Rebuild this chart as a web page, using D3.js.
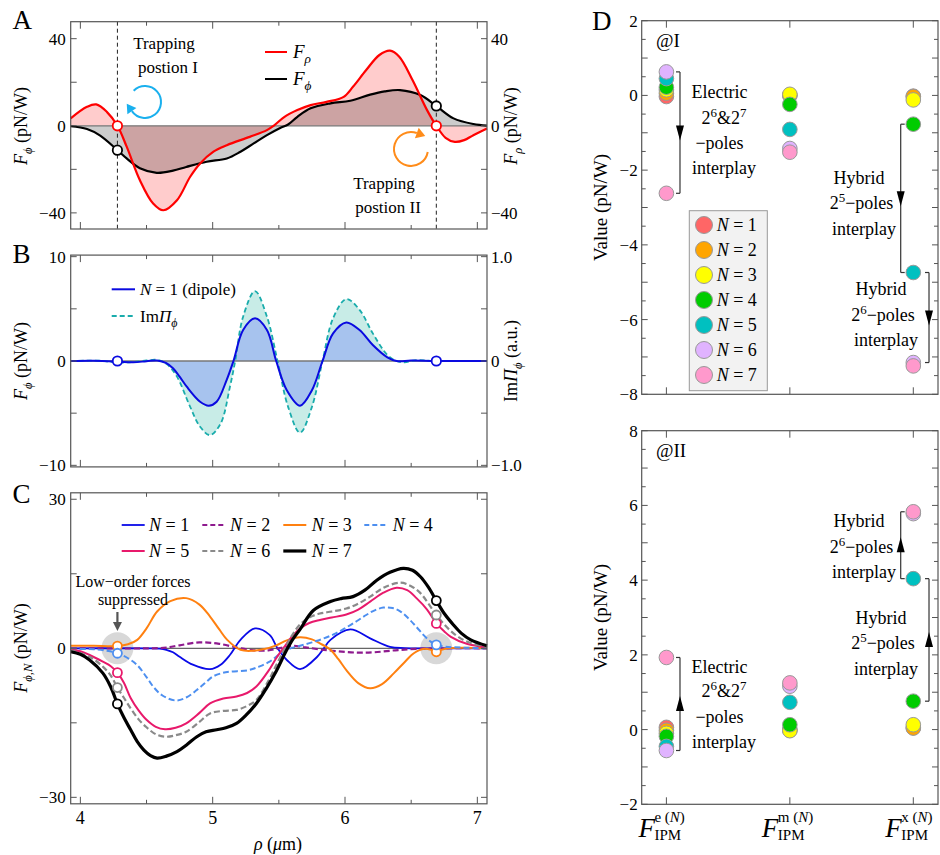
<!DOCTYPE html>
<html><head><meta charset="utf-8">
<script src="https://cdn.jsdelivr.net/npm/d3@7"></script>
<style>body{margin:0;background:#fff}text{font-family:"Liberation Serif","Times New Roman",serif}</style>
</head><body><svg id="c" width="940" height="855"></svg>
<script>
// ---------------- DATA ----------------
const rhoTicks = [4, 5, 6, 7];
const rhoMinor = [4.5, 5.5, 6.5];
const trapRho = [4.28, 6.69];
// Panel A
const A_Frho = [[3.927,3.4],[4.05,8.7],[4.12,9.8],[4.2,6.4],[4.28,0],[4.35,-9.6],[4.45,-25],[4.55,-35.7],[4.627,-38.8],[4.73,-34.2],[4.83,-23.4],[4.905,-17.3],[5.006,-11.9],[5.107,-8.9],[5.28,-5.1],[5.41,-2.0],[5.46,0],[5.54,4.0],[5.64,7.2],[5.74,9.5],[5.86,11],[5.99,13.3],[6.06,17.9],[6.16,25.6],[6.26,32.5],[6.34,34.5],[6.41,31.7],[6.51,21],[6.62,7.2],[6.69,0],[6.76,-5.5],[6.83,-7.4],[6.9,-6.6],[6.97,-4.3],[7.073,-1.2]];
const A_Fphi = [[3.927,-0.2],[4.05,-1.5],[4.15,-4.5],[4.28,-11.2],[4.35,-15],[4.45,-19.5],[4.577,-21.6],[4.7,-20.6],[4.8,-18.9],[4.955,-16.5],[5.107,-15],[5.21,-11.9],[5.31,-8.1],[5.41,-4.3],[5.51,-1],[5.57,0.6],[5.64,4.1],[5.74,8.0],[5.89,10.3],[6.04,11.5],[6.19,14.3],[6.3,15.8],[6.416,16.4],[6.57,14.1],[6.69,9.1],[6.82,3.4],[6.97,0.8],[7.073,0.1]];
const A_markRho = [0, 0];
const A_markPhi = [-11.2, 9.1];
const A_yTicks = [-40, 0, 40];
// Panel B
const B_N1 = [[3.927,0],[4.1,0.02],[4.28,-0.05],[4.4,-0.12],[4.5,-0.02],[4.58,0.05],[4.65,-0.2],[4.70,-0.7],[4.75,-1.5],[4.804,-2.46],[4.905,-3.9],[4.97,-4.28],[5.03,-3.9],[5.106,-1.8],[5.157,0],[5.23,2.97],[5.32,4.09],[5.41,2.97],[5.48,0],[5.56,-2.8],[5.66,-4.28],[5.75,-2.8],[5.83,0],[5.91,2.65],[6.01,3.7],[6.11,2.97],[6.21,1.53],[6.32,0.35],[6.39,0],[6.5,0.04],[6.69,0],[7.073,0]];
const B_ImPi = [[3.927,0],[4.15,0.002],[4.28,-0.015],[4.4,-0.01],[4.5,0.005],[4.58,0.01],[4.653,-0.03],[4.73,-0.15],[4.83,-0.44],[4.905,-0.63],[4.98,-0.71],[5.06,-0.6],[5.13,-0.25],[5.17,0],[5.23,0.425],[5.32,0.67],[5.41,0.425],[5.49,0],[5.57,-0.44],[5.66,-0.687],[5.75,-0.44],[5.83,0],[5.91,0.41],[6.01,0.594],[6.11,0.49],[6.21,0.265],[6.32,0.058],[6.39,0],[6.45,-0.012],[6.54,0.008],[6.69,0],[7.073,0]];
const B_leftTicks = [-10, 0, 10];
const B_rightTicks = [-1.0, 0, 1.0];
const B_rightLabels = ["\u22121.0", "0", "1.0"];
// Panel C
const C_labels = ["1","2","3","4","5","6","7"];
const C_N1 = [[3.927,0],[4.5,0],[4.6,-0.05],[4.65,-0.3],[4.70,-0.8],[4.75,-1.7],[4.85,-3.3],[4.98,-4.2],[5.06,-3.3],[5.13,-1.35],[5.21,1.7],[5.32,4.0],[5.43,2.7],[5.49,0],[5.56,-2.35],[5.66,-4.2],[5.79,-1.7],[5.84,0],[5.89,1.7],[6.04,3.8],[6.19,2.0],[6.34,0.3],[6.45,0.05],[6.6,0],[7.073,0]];
const C_N2 = [[3.927,0],[4.55,0],[4.65,0.15],[4.75,0.6],[4.9,1.2],[5.05,0.9],[5.2,0.05],[5.31,-0.4],[5.42,-0.4],[5.52,0.1],[5.6,0.5],[5.7,0.2],[5.82,-0.25],[5.95,-0.6],[6.1,-0.88],[6.22,-0.8],[6.38,-0.4],[6.55,-0.1],[6.75,0],[7.073,0]];
const C_N3 = [[3.927,0.5],[4.1,0.5],[4.28,0.45],[4.36,0.8],[4.43,1.7],[4.5,4],[4.58,7.4],[4.68,9.5],[4.80,10.1],[4.9,8.8],[4.98,6.4],[5.05,3.8],[5.11,1.7],[5.21,-0.3],[5.3,-0.5],[5.4,-0.1],[5.48,0.6],[5.56,1.6],[5.66,2.2],[5.75,1.8],[5.81,1.0],[5.89,-0.3],[5.95,-2.2],[6.01,-4.4],[6.1,-7.0],[6.19,-8.05],[6.28,-7.2],[6.37,-5.0],[6.45,-2.8],[6.52,-1.0],[6.6,-0.1],[6.66,-0.4],[6.69,-0.7],[6.72,-0.4],[6.78,0],[7.073,0]];
const C_N4 = [[3.927,-0.1],[4.1,-0.2],[4.2,-0.5],[4.28,-1.0],[4.36,-2.0],[4.43,-3.4],[4.5,-5.8],[4.55,-7.7],[4.62,-9.5],[4.72,-10.5],[4.8,-9.9],[4.88,-8.4],[4.95,-6.8],[5.0,-5.7],[5.07,-5.0],[5.13,-4.7],[5.27,-4.4],[5.35,-3.7],[5.43,-2.7],[5.51,-1.1],[5.58,-0.1],[5.66,0.5],[5.75,1.2],[5.84,2.0],[5.93,3.0],[6.01,4.2],[6.09,5.5],[6.16,6.7],[6.22,7.6],[6.29,8.2],[6.36,8.1],[6.42,7.4],[6.48,6.0],[6.54,4.3],[6.6,2.5],[6.65,1.3],[6.69,0.7],[6.75,0.35],[6.82,0.2],[7.073,0]];
const C_N5 = [[3.927,-0.3],[4.0,-0.6],[4.07,-1.35],[4.17,-2.7],[4.23,-3.6],[4.28,-4.9],[4.33,-7],[4.38,-10],[4.44,-12.5],[4.5,-14.4],[4.57,-15.8],[4.64,-16.3],[4.72,-16],[4.80,-15.1],[4.9,-13],[4.98,-11.1],[5.08,-10.1],[5.18,-9.7],[5.26,-9.0],[5.33,-7.7],[5.42,-4.6],[5.48,-2.0],[5.55,0.6],[5.6,2.4],[5.66,4.0],[5.73,5.1],[5.81,5.7],[5.9,6.2],[6.01,6.8],[6.1,7.8],[6.19,9.4],[6.29,11.2],[6.39,12.2],[6.47,11.7],[6.54,10.1],[6.62,7.8],[6.69,5.0],[6.75,3.4],[6.80,2.3],[6.92,0.9],[7.073,0.2]];
const C_N6 = [[3.927,-0.4],[4.07,-1.7],[4.17,-3.7],[4.23,-5.5],[4.28,-7.9],[4.33,-10],[4.38,-12.1],[4.44,-14.3],[4.5,-15.9],[4.57,-17.3],[4.64,-17.8],[4.72,-17.5],[4.80,-16.8],[4.9,-14.8],[4.98,-13.1],[5.08,-12.6],[5.18,-12.4],[5.26,-11.6],[5.33,-10.4],[5.42,-6.6],[5.48,-3.4],[5.55,0.2],[5.6,2.6],[5.66,4.8],[5.73,6.2],[5.81,7.0],[5.9,7.4],[6.01,8.0],[6.1,9.0],[6.19,10.4],[6.3,12.3],[6.42,13.2],[6.5,12.5],[6.57,11.1],[6.63,9.0],[6.69,6.7],[6.75,4.8],[6.82,3.0],[6.9,1.6],[6.97,0.9],[7.073,0.3]];
const C_N7 = [[3.927,-0.7],[4.0,-1.2],[4.07,-2.35],[4.17,-5.0],[4.23,-7.8],[4.28,-11.2],[4.33,-14],[4.38,-16.4],[4.43,-18.8],[4.48,-20.5],[4.53,-21.6],[4.58,-22.1],[4.65,-21.7],[4.73,-20.8],[4.8,-19.5],[4.88,-17.8],[4.95,-16.8],[5.03,-16.4],[5.1,-16],[5.18,-15.1],[5.25,-13.5],[5.33,-11.1],[5.4,-8.3],[5.48,-4.6],[5.55,-0.8],[5.6,1.6],[5.66,3.8],[5.76,7.6],[5.89,9.4],[5.97,10],[6.06,10.4],[6.15,11.7],[6.24,13.7],[6.34,15.3],[6.44,16.1],[6.51,15.7],[6.57,14.4],[6.63,12.3],[6.69,9.6],[6.75,7.0],[6.82,4.7],[6.88,3.0],[6.95,1.7],[7.073,0.5]];
const C_markI  = [null, null, 0.45, -1.0, -4.9, -7.9, -11.2];
const C_markII = [null, null, -0.7, 0.7, 5.0, 6.7, 9.6];
const C_yTicks = [-30, 0, 30];
// Panel D
const D_cats = ["e", "m", "x"];
const D_N = ["1","2","3","4","5","6","7"];
const D_I_e  = [-0.03, 0.06, 0.15, 0.22, 0.45, 0.63, -2.62];
const D_I_m  = [0.0, 0.0, 0.03, -0.24, -0.91, -1.42, -1.52];
const D_I_x  = [-0.02, -0.03, -0.12, -0.77, -4.74, -7.15, -7.24];
const D_II_e = [0.06, -0.02, -0.1, -0.18, -0.45, -0.56, 1.93];
const D_II_m = [0.0, -0.02, -0.03, 0.13, 0.73, 1.16, 1.25];
const D_II_x = [0.05, 0.04, 0.13, 0.76, 4.04, 5.78, 5.83];

// ---------------- SETUP ----------------
const svg = d3.select('#c');
const SANS = '"Liberation Sans",Arial,sans-serif';
const FR = '#555';
const x = d3.scaleLinear().domain([3.927, 7.073]).range([70.7, 487]);
const yA = d3.scaleLinear().domain([-47.4, 47.8]).range([229, 21.7]);
const yB = d3.scaleLinear().domain([-10.15, 10.15]).range([466.9, 255.1]);
const yB2 = d3.scaleLinear().domain([-1.015, 1.015]).range([466.9, 255.1]);
const yC = d3.scaleLinear().domain([-31.3, 31.3]).range([803.8, 492.8]);
const xD = d3.scaleLinear().domain([-0.2, 2.2]).range([641.7, 938]);
const yD1 = d3.scaleLinear().domain([-8, 2]).range([394.3, 20.7]);
const yD2 = d3.scaleLinear().domain([-2, 8]).range([804.3, 430.7]);
const curve = d3.curveCatmullRom.alpha(0.5);
const fmt = v => (v < 0 ? '\u2212' : '') + Math.abs(v);

function ln(g, x1, y1, x2, y2, st, w) {
  return g.append('line').attr('x1', x1).attr('y1', y1).attr('x2', x2).attr('y2', y2)
    .attr('stroke', st || FR).attr('stroke-width', w || 1);
}
function rich(parent, px, py, parts, o = {}) {
  const base = o.size || 17;
  const t = parent.append('text').attr('x', px).attr('y', py).attr('font-size', base)
    .attr('text-anchor', o.anchor || 'start').attr('fill', o.fill || '#000');
  if (o.transform) t.attr('transform', o.transform);
  let cur = 0;
  parts.forEach(p => {
    if (typeof p === 'string') p = { t: p };
    const sh = p.sub ? base * 0.28 : p.sup ? -base * 0.4 : 0;
    const ts = t.append('tspan').text(p.t).attr('dy', sh - cur);
    cur = sh;
    if (p.it) ts.attr('font-style', 'italic');
    if (p.sub || p.sup) ts.attr('font-size', base * (p.scale || 0.7));
  });
  return t;
}
function rhoFrame(yS, y0, y1, yTickVals, labs, rightS, rightVals, rightLabs) {
  const g = svg.append('g');
  const x0 = x.range()[0], x1 = x.range()[1];
  rhoTicks.forEach(v => { ln(g, x(v), y1, x(v), y1 - 7); ln(g, x(v), y0, x(v), y0 + 7); });
  rhoMinor.forEach(v => { ln(g, x(v), y1, x(v), y1 - 4); ln(g, x(v), y0, x(v), y0 + 4); });
  yTickVals.forEach(v => { ln(g, x0, yS(v), x0 + 6, yS(v)); ln(g, x1, yS(v), x1 - 6, yS(v)); });
  labs.forEach(v => g.append('text').attr('x', x0 - 5).attr('y', yS(v) + 6).attr('text-anchor', 'end')
    .attr('font-size', 17).text(fmt(v)));
  if (rightS) rightVals.forEach((v, i) => g.append('text').attr('x', x1 + 4).attr('y', rightS(v) + 6)
    .attr('font-size', 17).text(rightLabs[i]));
  g.append('rect').attr('x', x0).attr('y', y0).attr('width', x1 - x0).attr('height', y1 - y0)
    .attr('fill', 'none').attr('stroke', FR).attr('stroke-width', 1.2);
  return g;
}
const lineGen = (yS) => d3.line().x(d => x(d[0])).y(d => yS(d[1])).curve(curve);
const areaGen = (yS) => d3.area().x(d => x(d[0])).y0(yS(0)).y1(d => yS(d[1])).curve(curve);

// ---------------- PANEL A ----------------
{
  const g = svg.append('g');
  g.append('path').attr('d', areaGen(yA)(A_Frho)).attr('fill', 'rgba(255,0,0,0.2)');
  g.append('path').attr('d', areaGen(yA)(A_Fphi)).attr('fill', 'rgba(0,0,0,0.2)');
  ln(g, x.range()[0], yA(0), x.range()[1], yA(0), '#777', 1.3);
  trapRho.forEach(r => ln(g, x(r), 21.7, x(r), 229, '#222', 1).attr('stroke-dasharray', '4,3'));
  g.append('path').attr('d', lineGen(yA)(A_Fphi)).attr('fill', 'none').attr('stroke', '#000').attr('stroke-width', 2.2);
  g.append('path').attr('d', lineGen(yA)(A_Frho)).attr('fill', 'none').attr('stroke', '#f00').attr('stroke-width', 2.2);
  trapRho.forEach((r, i) => {
    g.append('circle').attr('cx', x(r)).attr('cy', yA(A_markRho[i])).attr('r', 4.7).attr('fill', '#fff').attr('stroke', '#f00').attr('stroke-width', 1.8);
    g.append('circle').attr('cx', x(r)).attr('cy', yA(A_markPhi[i])).attr('r', 4.7).attr('fill', '#fff').attr('stroke', '#000').attr('stroke-width', 1.8);
  });
  rhoFrame(yA, 21.7, 229, [-40, -20, 0, 20, 40], A_yTicks, yA, A_yTicks, A_yTicks.map(fmt));
  // legend
  ln(g, 265, 52, 287, 52, '#f00', 2); rich(g, 293, 58, [{ t: 'F', it: true }, { t: 'ρ', it: true, sub: true }], { size: 19 });
  ln(g, 265, 79, 287, 79, '#000', 2); rich(g, 293, 85, [{ t: 'F', it: true }, { t: 'ϕ', it: true, sub: true }], { size: 19 });
  // texts
  g.append('text').attr('x', 164).attr('y', 49).attr('text-anchor', 'middle').attr('font-size', 17).text('Trapping');
  g.append('text').attr('x', 168).attr('y', 73).attr('text-anchor', 'middle').attr('font-size', 17).text('postion I');
  g.append('text').attr('x', 384).attr('y', 189).attr('text-anchor', 'middle').attr('font-size', 17).text('Trapping');
  g.append('text').attr('x', 388).attr('y', 213).attr('text-anchor', 'middle').attr('font-size', 17).text('postion II');
  // rotation arrows
  function rotArrow(cx, cy, r, a0, a1, col) {
    const rad = d => d * Math.PI / 180;
    const p0 = [cx + r * Math.cos(rad(a0)), cy + r * Math.sin(rad(a0))];
    const p1 = [cx + r * Math.cos(rad(a1)), cy + r * Math.sin(rad(a1))];
    const large = ((a1 - a0 + 360) % 360) > 180 ? 1 : 0;
    g.append('path').attr('d', `M${p0[0]},${p0[1]} A${r},${r} 0 ${large} 1 ${p1[0]},${p1[1]}`)
      .attr('fill', 'none').attr('stroke', col).attr('stroke-width', 2);
    const t = [-Math.sin(rad(a1)), Math.cos(rad(a1))];
    const n = [-t[1], t[0]];
    const tip = [p1[0] + t[0] * 9, p1[1] + t[1] * 9];
    const b1 = [p1[0] + n[0] * 5.5, p1[1] + n[1] * 5.5], b2 = [p1[0] - n[0] * 5.5, p1[1] - n[1] * 5.5];
    g.append('path').attr('d', `M${tip}L${b1}L${b2}Z`).attr('fill', col);
  }
  rotArrow(145, 102, 16, 225, 145, '#1ab0ee');
  rotArrow(411, 149, 17, 10, 290, '#ff8c1a');
  g.append('text').attr('x', 12.5).attr('y', 29.3).attr('font-family', SANS).attr('font-size', 27).text('A');
  rich(g, 0, 0, [{ t: 'F', it: true }, { t: 'ϕ', it: true, sub: true }, ' (pN/W)'], { anchor: 'middle', size: 18, transform: 'translate(27,126) rotate(-90)' });
  rich(g, 0, 0, [{ t: 'F', it: true }, { t: 'ρ', it: true, sub: true }, ' (pN/W)'], { anchor: 'middle', size: 18, transform: 'translate(517,126) rotate(-90)' });
}

// ---------------- PANEL B ----------------
{
  const g = svg.append('g');
  const yImLine = d3.line().x(d => x(d[0])).y(d => yB2(d[1])).curve(curve);
  const yImArea = d3.area().x(d => x(d[0])).y0(yB2(0)).y1(d => yB2(d[1])).curve(curve);
  g.append('path').attr('d', yImArea(B_ImPi)).attr('fill', '#c8ece7');
  g.append('path').attr('d', areaGen(yB)(B_N1)).attr('fill', '#a7c3ee');
  ln(g, x.range()[0], yB(0), x.range()[1], yB(0), '#777', 1.3);
  g.append('path').attr('d', yImLine(B_ImPi)).attr('fill', 'none').attr('stroke', '#1aacac').attr('stroke-width', 1.8).attr('stroke-dasharray', '5,3');
  g.append('path').attr('d', lineGen(yB)(B_N1)).attr('fill', 'none').attr('stroke', '#0a0ae0').attr('stroke-width', 2);
  trapRho.forEach(r => g.append('circle').attr('cx', x(r)).attr('cy', yB(0)).attr('r', 4.7).attr('fill', '#fff').attr('stroke', '#0a0ae0').attr('stroke-width', 1.8));
  rhoFrame(yB, 255.1, 466.9, [-10, -5, 0, 5, 10], B_leftTicks, yB2, B_rightTicks, B_rightLabels);
  ln(g, 111.7, 289.3, 135, 289.3, '#0a0ae0', 2);
  rich(g, 140, 295, [{ t: 'N', it: true }, ' = 1 (dipole)'], { size: 17 });
  ln(g, 111.7, 316, 135, 316, '#1aacac', 1.8).attr('stroke-dasharray', '5,3');
  rich(g, 140, 322, ['Im', { t: 'Π', it: true }, { t: 'ϕ', it: true, sub: true }], { size: 17 });
  g.append('text').attr('x', 12.5).attr('y', 263.3).attr('font-family', SANS).attr('font-size', 27).text('B');
  rich(g, 0, 0, [{ t: 'F', it: true }, { t: 'ϕ', it: true, sub: true }, ' (pN/W)'], { anchor: 'middle', size: 18, transform: 'translate(27,361) rotate(-90)' });
  rich(g, 0, 0, ['Im', { t: 'Π', it: true }, { t: 'ϕ', it: true, sub: true }, ' (a.u.)'], { anchor: 'middle', size: 18, transform: 'translate(517,361) rotate(-90)' });
}

// ---------------- PANEL C ----------------
{
  const g = svg.append('g');
  const series = [C_N1, C_N2, C_N3, C_N4, C_N5, C_N6, C_N7];
  const cols = ['#0a0ae8', '#8e1a8e', '#ff8010', '#4d8ff0', '#e8196b', '#8a8a8a', '#000'];
  const dash = [null, '6,3', null, '6,3', null, '6,3', null];
  const wid = [1.8, 2.2, 2, 2, 2, 2.2, 3.2];
  trapRho.forEach(r => g.append('circle').attr('cx', x(r)).attr('cy', yC(0)).attr('r', 16).attr('fill', '#d8d8d8'));
  ln(g, x.range()[0], yC(0), x.range()[1], yC(0), '#666', 1.2);
  series.forEach((s, i) => {
    const p = g.append('path').attr('d', lineGen(yC)(s)).attr('fill', 'none').attr('stroke', cols[i]).attr('stroke-width', wid[i]);
    if (dash[i]) p.attr('stroke-dasharray', dash[i]);
  });
  [C_markI, C_markII].forEach((arr, k) => arr.forEach((v, i) => {
    if (v === null) return;
    g.append('circle').attr('cx', x(trapRho[k])).attr('cy', yC(v)).attr('r', 4.5).attr('fill', '#fff').attr('stroke', cols[i]).attr('stroke-width', 1.8);
  }));
  rhoFrame(yC, 492.8, 803.8, [-30, -15, 0, 15, 30], C_yTicks, null, [], []);
  rhoTicks.forEach(v => g.append('text').attr('x', x(v)).attr('y', 824).attr('text-anchor', 'middle').attr('font-size', 18).text(v));
  rich(g, 278, 850, [{ t: 'ρ', it: true }, ' (', { t: 'μ', it: true }, 'm)'], { anchor: 'middle', size: 18 });
  // legend
  const lx = [121.7, 202.3, 283.3, 364.3], tx = [149, 230, 311.7, 392.7];
  C_labels.forEach((lab, i) => {
    const row = i < 4 ? 0 : 1, col = i < 4 ? i : i - 4;
    const yy = row ? 551 : 525;
    const l = ln(g, lx[col], yy, lx[col] + 23, yy, cols[i], wid[i]);
    if (dash[i]) l.attr('stroke-dasharray', '5,3');
    rich(g, tx[col], yy + 6, [{ t: 'N', it: true }, ' = ' + lab], { size: 18 });
  });
  g.append('text').attr('x', 133).attr('y', 587).attr('text-anchor', 'middle').attr('font-size', 16).text('Low\u2212order forces');
  g.append('text').attr('x', 133).attr('y', 605).attr('text-anchor', 'middle').attr('font-size', 16).text('suppressed');
  ln(g, x(trapRho[0]), 612, x(trapRho[0]), 623, '#555', 2.2);
  g.append('path').attr('d', `M${x(trapRho[0]) - 4.5},622L${x(trapRho[0]) + 4.5},622L${x(trapRho[0])},631Z`).attr('fill', '#555');
  g.append('text').attr('x', 12.5).attr('y', 503).attr('font-family', SANS).attr('font-size', 27).text('C');
  rich(g, 0, 0, [{ t: 'F', it: true }, { t: 'ϕ,', it: true, sub: true }, { t: 'N', it: true, sub: true }, ' (pN/W)'], { anchor: 'middle', size: 18, transform: 'translate(27,648) rotate(-90)' });
}

// ---------------- PANEL D ----------------
const dCols = ['#ff6666', '#ffa500', '#ffff00', '#00cc00', '#00c0c0', '#e0b3ff', '#ff99cc'];
function dPanel(yS, y0, y1, lo, hi, data, label) {
  const g = svg.append('g');
  const x0 = xD.range()[0], x1 = xD.range()[1];
  for (let v = lo; v <= hi + 1e-9; v += 0.5) {
    const L = Number.isInteger(v) ? 6 : 4;
    ln(g, x0, yS(v), x0 + L, yS(v)); ln(g, x1, yS(v), x1 - L, yS(v));
  }
  for (let v = lo; v <= hi; v += 2) g.append('text').attr('x', x0 - 4).attr('y', yS(v) + 6).attr('text-anchor', 'end').attr('font-size', 17).text(fmt(v));
  [0, 1, 2].forEach(c => { ln(g, xD(c), y1, xD(c), y1 - 7); ln(g, xD(c), y0, xD(c), y0 + 7); });
  g.append('rect').attr('x', x0).attr('y', y0).attr('width', x1 - x0).attr('height', y1 - y0).attr('fill', 'none').attr('stroke', FR).attr('stroke-width', 1.2);
  data.forEach((arr, c) => arr.forEach((v, i) => g.append('circle').attr('cx', xD(c)).attr('cy', yS(v)).attr('r', 7.3)
    .attr('fill', dCols[i]).attr('stroke', '#999').attr('stroke-width', 1)));
  g.append('text').attr('x', 656).attr('y', y0 + 26).attr('font-size', 19).text(label);
  rich(g, 0, 0, ['Value (pN/W)'], { anchor: 'middle', size: 19, transform: `translate(607,${(y0 + y1) / 2}) rotate(-90)` });
  return g;
}
function bracket(g, xx, ya, yb, dir, down) {
  ln(g, xx, ya, xx, yb, '#333', 1.2);
  ln(g, xx, ya, xx + dir * 4, ya, '#333', 1.2);
  ln(g, xx, yb, xx + dir * 4, yb, '#333', 1.2);
  const m = (ya + yb) / 2;
  if (down) g.append('path').attr('d', `M${xx - 4},${m - 7}L${xx + 4},${m - 7}L${xx},${m + 8}Z`).attr('fill', '#000');
  else g.append('path').attr('d', `M${xx - 4},${m + 7}L${xx + 4},${m + 7}L${xx},${m - 8}Z`).attr('fill', '#000');
}
function annot(g, cx, ys, lines) {
  lines.forEach((parts, k) => rich(g, cx[k], ys[k], parts, { anchor: 'middle', size: 18 }));
}
const electric = [['Electric'], ['2', { t: '6', sup: true, scale: 0.72 }, '&2', { t: '7', sup: true, scale: 0.72 }], ['\u2212poles'], ['interplay']];
const hyb5 = [['Hybrid'], ['2', { t: '5', sup: true, scale: 0.72 }, '\u2212poles'], ['interplay']];
const hyb6 = [['Hybrid'], ['2', { t: '6', sup: true, scale: 0.72 }, '\u2212poles'], ['interplay']];
{
  const g = dPanel(yD1, 20.7, 394.3, -8, 2, [D_I_e, D_I_m, D_I_x], '@I');
  bracket(g, xD(0) + 13.6, yD1(D_I_e[5]), yD1(D_I_e[6]), -1, true);
  bracket(g, xD(2) - 12.6, yD1(D_I_x[3]), yD1(D_I_x[4]), 1, true);
  bracket(g, xD(2) + 15.7, yD1(D_I_x[4]), yD1(D_I_x[5]), -1, true);
  annot(g, [719.5, 724, 719.5, 724], [98, 124, 149, 174], electric);
  annot(g, [859, 861.5, 864], [184, 209, 235], hyb5);
  annot(g, [881, 883, 886], [295, 321, 346], hyb6);
  // legend
  g.append('rect').attr('x', 689.3).attr('y', 210.7).attr('width', 78).attr('height', 180).attr('fill', '#f2f2f2').attr('stroke', '#999');
  D_N.forEach((n, i) => {
    const yy = 225 + i * 25;
    g.append('circle').attr('cx', 704).attr('cy', yy).attr('r', 8.5).attr('fill', dCols[i]).attr('stroke', '#999');
    rich(g, 716.7, yy + 6, [{ t: 'N', it: true }, ' = ' + n], { size: 18 });
  });
  g.append('text').attr('x', 592).attr('y', 30).attr('font-family', SANS).attr('font-size', 27).text('D');
}
{
  const g = dPanel(yD2, 430.7, 804.3, -2, 8, [D_II_e, D_II_m, D_II_x], '@II');
  bracket(g, xD(0) + 13.6, yD2(D_II_e[6]), yD2(D_II_e[5]), -1, false);
  bracket(g, xD(2) - 12.6, yD2(D_II_x[6]), yD2(D_II_x[4]), 1, false);
  bracket(g, xD(2) + 15.7, yD2(D_II_x[4]), yD2(D_II_x[3]), -1, false);
  annot(g, [719.5, 724, 719.5, 724], [672.7, 697, 722.7, 747.7], electric);
  annot(g, [859, 861.5, 864], [527, 552.7, 578.3], hyb6);
  annot(g, [881, 883, 886], [623.7, 649.3, 675], hyb5);
  D_cats.forEach((c, i) => {
    const cx = xD(i);
    const t = g.append('text').attr('x', cx - 28).attr('y', 837).attr('font-size', 27);
    t.append('tspan').attr('font-style', 'italic').text('F');
    t.append('tspan').attr('x', cx - 12).attr('y', 822).attr('font-size', 15).attr('font-style', 'normal').text(c + ' (');
    t.append('tspan').attr('font-size', 15).attr('font-style', 'italic').text('N');
    t.append('tspan').attr('font-size', 15).attr('font-style', 'normal').text(')');
    t.append('tspan').attr('x', cx - 12).attr('y', 840).attr('font-size', 15).attr('font-style', 'normal').text('IPM');
  });
}
</script></body></html>
